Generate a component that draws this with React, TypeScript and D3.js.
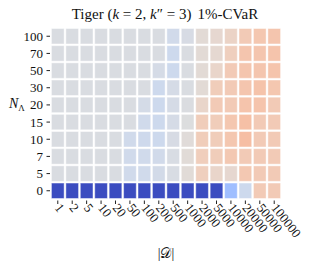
import React from 'react';
import * as d3 from 'd3';

// dataset sizes |D| (columns) and N_Λ (rows, top to bottom)
const datasetSizes = ['1', '2', '5', '10', '20', '50', '100', '200', '500', '1000', '2000', '5000', '10000', '20000', '50000', '100000'];
const nLambda = ['100', '70', '50', '30', '20', '15', '10', '7', '5', '0'];

// 1%-CVaR score per cell, as position on the colormap (0 = worst/blue, 1 = best/red)
const row100 = [0.485, 0.485, 0.485, 0.485, 0.485, 0.485, 0.485, 0.485, 0.455, 0.475, 0.52, 0.535, 0.56, 0.6, 0.615, 0.62];
const row70 = [0.485, 0.485, 0.485, 0.485, 0.485, 0.485, 0.485, 0.485, 0.44, 0.485, 0.52, 0.53, 0.58, 0.62, 0.62, 0.625];
const row50 = [0.485, 0.485, 0.485, 0.485, 0.485, 0.485, 0.485, 0.47, 0.44, 0.485, 0.52, 0.55, 0.6, 0.62, 0.62, 0.625];
const row30 = [0.485, 0.485, 0.485, 0.485, 0.485, 0.485, 0.485, 0.44, 0.47, 0.485, 0.52, 0.59, 0.6, 0.62, 0.63, 0.615];
const row20 = [0.485, 0.485, 0.485, 0.485, 0.485, 0.485, 0.465, 0.44, 0.47, 0.49, 0.55, 0.6, 0.6, 0.625, 0.625, 0.6];
const row15 = [0.485, 0.485, 0.485, 0.485, 0.485, 0.485, 0.45, 0.44, 0.47, 0.495, 0.59, 0.59, 0.615, 0.64, 0.6, 0.6];
const row10 = [0.485, 0.485, 0.485, 0.485, 0.485, 0.45, 0.445, 0.44, 0.475, 0.51, 0.59, 0.59, 0.615, 0.645, 0.6, 0.6];
const row7 = [0.485, 0.485, 0.485, 0.485, 0.485, 0.45, 0.45, 0.455, 0.48, 0.515, 0.585, 0.59, 0.61, 0.6, 0.6, 0.6];
const row5 = [0.485, 0.485, 0.485, 0.485, 0.485, 0.45, 0.45, 0.46, 0.48, 0.515, 0.58, 0.55, 0.535, 0.61, 0.6, 0.6];
const row0 = [0, 0, 0, 0, 0, 0, 0, 0, 0, 0, 0, 0, 0.3, 0.44, 0.6, 0.6];
const rows = [row100, row70, row50, row30, row20, row15, row10, row7, row5, row0];

// coolwarm colormap stops
const coolwarm = [
  '#3b4cc0', '#445acc', '#4d68d7', '#5775e1', '#6282ea', '#6c8ef1', '#779af7', '#82a5fb',
  '#8db0fe', '#98b9ff', '#a3c2ff', '#aec9fd', '#b8d0f9', '#c2d5f4', '#ccd9ee', '#d5dbe6',
  '#dddddd', '#e5d8d1', '#ecd3c5', '#f1ccb8', '#f5c4ac', '#f7bb9f', '#f7b191', '#f7a685',
  '#f49a78', '#f18d6c', '#ec7f60', '#e57055', '#de604a', '#d55040', '#cb3e38', '#c0282f', '#b40426'
];

const W = 310;
const H = 270;
const serif = "'Liberation Serif', 'DejaVu Serif', serif";

export default function App() {
  const x = d3.scaleBand<string>().domain(datasetSizes).range([51, 281]).paddingInner(0.12).paddingOuter(0.03);
  const y = d3.scaleBand<string>().domain(nLambda).range([28, 199]).paddingInner(0.1).paddingOuter(0.03);
  const color = d3.scaleSequential(d3.piecewise(d3.interpolateRgb, coolwarm)).domain([0, 1]);

  const cells = rows.flatMap((vals, ri) =>
    vals.map((v, ci) => ({ row: nLambda[ri], col: datasetSizes[ci], v }))
  );

  return (
    <svg width={W} height={H} style={{ position: 'absolute', left: 0, top: 0, background: '#fff', fontFamily: serif }}>
      {/* title */}
      <text x={165} y={19} textAnchor="middle" fontSize={15} fill="#111">
        Tiger (<tspan fontStyle="italic">k</tspan> = 2, <tspan fontStyle="italic">k</tspan>″ = 3)<tspan dx={6}>1%-CVaR</tspan>
      </text>

      {cells.map((d, i) => (
        <rect
          key={i}
          x={x(d.col)}
          y={y(d.row)}
          width={x.bandwidth()}
          height={y.bandwidth()}
          fill={color(d.v)}
          stroke="rgba(255,255,255,0.45)"
          strokeWidth={1}
        />
      ))}

      {/* y axis */}
      {nLambda.map((n) => {
        const cy = (y(n) ?? 0) + y.bandwidth() / 2;
        return (
          <g key={n}>
            <line x1={46.5} x2={50} y1={cy} y2={cy} stroke="#222" strokeWidth={1} />
            <text x={43} y={cy} dy="0.35em" textAnchor="end" fontSize={13} fill="#111">{n}</text>
          </g>
        );
      })}
      <text x={9} y={108} fontSize={14} fill="#111">
        <tspan fontStyle="italic">N</tspan><tspan fontSize={9} dy={3}>Λ</tspan>
      </text>

      {/* x axis */}
      {datasetSizes.map((s) => {
        const cx = (x(s) ?? 0) + x.bandwidth() / 2;
        return (
          <g key={s}>
            <line x1={cx} x2={cx} y1={200.5} y2={204} stroke="#222" strokeWidth={1} />
            <text
              transform={`translate(${cx - 3.5},${208}) rotate(52)`}
              fontSize={13}
              fill="#111"
            >{s}</text>
          </g>
        );
      })}
      <text x={166} y={258} textAnchor="middle" fontSize={14} fill="#111">|𝒟|</text>
    </svg>
  );
}
